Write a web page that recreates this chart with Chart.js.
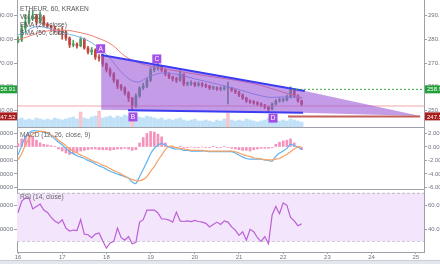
<!DOCTYPE html>
<html>
<head>
<meta charset="utf-8">
<script src="https://cdn.jsdelivr.net/npm/chart.js@4.4.0/dist/chart.umd.min.js"></script>
<style>
html, body { margin: 0; padding: 0; background: #fff; }
#wrap { position: relative; width: 440px; height: 264px; overflow: hidden; }
canvas { position: absolute; left: 0; }
#c1 { top: 0; } #c2 { top: 128px; } #c3 { top: 190px; }
#foot { position: absolute; left: 0; top: 260px; width: 440px; height: 4px; background: #e3e6ec; border-top: 1px solid #c9ccd3; }
</style>
</head>
<body>
<div id="wrap">
  <canvas id="c1" width="440" height="128"></canvas>
  <canvas id="c2" width="440" height="62"></canvas>
  <canvas id="c3" width="440" height="74"></canvas>
  <div id="foot"></div>
</div>
<script>
// ETH/EUR candles, 2h steps from the 16th (day of month)
const opens = [279.0, 279.7, 284.7, 287.3, 289.0, 289.8, 287.3, 289.4, 286.4, 285.6,
  284.7, 283.9, 283.5, 283.1, 280.5, 277.6, 278.0, 277.2, 280.1, 276.3,
  274.6, 275.5, 272.5, 273.4, 269.6, 267.1, 265.4, 262.8, 260.3, 259.5,
  257.4, 255.3, 251.9, 256.1, 259.5, 260.3, 262.8, 267.1, 267.9, 268.7,
  267.1, 265.4, 264.1, 263.3, 262.8, 265.4, 261.2, 261.2, 261.6, 260.7,
  261.2, 260.7, 260.3, 259.5, 259.5, 259.1, 259.1, 259.5, 259.5, 258.6,
  257.8, 256.5, 255.3, 254.0, 253.6, 253.2, 252.7, 252.3, 251.5, 250.6,
  252.7, 254.0, 254.4, 254.4, 255.7, 258.6, 256.1, 254.0];
const closes = [279.7, 284.7, 287.3, 289.0, 289.8, 287.3, 289.4, 286.4, 285.6, 284.7,
  283.9, 283.5, 283.1, 280.5, 277.6, 278.0, 277.2, 280.1, 276.3, 274.6,
  275.5, 272.5, 272.1, 269.6, 267.1, 265.4, 262.8, 260.3, 259.5, 257.4,
  255.3, 251.9, 256.1, 259.5, 260.3, 262.8, 267.1, 267.9, 268.7, 267.1,
  265.4, 264.1, 263.3, 262.8, 265.4, 261.2, 261.2, 261.6, 260.7, 261.2,
  260.7, 260.3, 259.5, 259.5, 259.1, 259.1, 259.5, 259.5, 258.6, 257.8,
  256.5, 255.3, 254.0, 253.6, 253.2, 252.7, 252.3, 251.5, 250.6, 252.7,
  254.0, 254.4, 254.4, 255.7, 258.6, 256.1, 254.0, 252.7];
const highs = [281, 286, 290.5, 292, 292, 290.5, 291.5, 290, 287, 286,
  285.5, 284.5, 285, 283.5, 281, 279.5, 278.5, 281, 280.5, 277,
  276.5, 276, 273.5, 273.8, 270, 268, 266, 263, 261, 260,
  258, 255.5, 257, 260, 261.5, 263.5, 268, 269, 270, 269,
  267.5, 266, 264.5, 264, 266.8, 265, 262, 262.5, 262, 262,
  261.8, 261.2, 260.6, 260.3, 260, 260, 260.4, 262, 259.8, 259,
  258.2, 257, 255.6, 254.5, 254.2, 253.8, 253.2, 252.6, 251.8, 253.2,
  254.6, 255.4, 255.2, 256.5, 260, 258.9, 256.6, 254.4];
const lows = [278.5, 279, 284, 286.8, 288, 286, 286.8, 285.8, 284.8, 283.8,
  283, 282.2, 280, 279.5, 276.5, 276.8, 276.2, 276.8, 275.8, 273.8,
  273.5, 271.5, 270.8, 268.5, 266.2, 264.4, 261.8, 259.2, 258.5, 256.5,
  253.8, 250.0, 251.2, 255.5, 258.8, 259.6, 262.2, 266.3, 267, 266.4,
  264.6, 263.4, 262.4, 261.8, 262.2, 260.4, 260.4, 260.6, 260, 260.2,
  259.9, 259.6, 258.8, 258.8, 258.5, 258.3, 258.6, 252.8, 258, 257.1,
  255.8, 254.6, 253.4, 253, 252.6, 252.1, 251.6, 250.8, 249.4, 250.2,
  252.3, 253.5, 253.6, 254, 255.2, 255.5, 253.5, 252];
const volumes = [9, 10, 8, 9, 8, 10, 9, 8, 9, 8, 10, 9, 8, 9, 10, 11, 9, 16, 10, 9,
  11, 12, 17, 10, 11, 12, 10, 12, 11, 13, 12, 15, 13, 11, 10, 12, 11, 10, 9, 10,
  8, 9, 8, 9, 10, 8, 7, 8, 9, 7, 7, 8, 7, 6, 8, 7, 9, 15, 8, 7,
  8, 7, 9, 8, 7, 6, 7, 8, 10, 9, 8, 7, 8, 7, 9, 8, 7, 6];

// moving averages (sampled)
const maFastDays = [16.0, 16.16, 16.38, 16.68, 17.06, 17.45, 17.74, 18.04, 18.38, 18.69, 18.99, 19.37, 20.12, 20.86, 21.63, 21.99, 22.43];
const maFast = [281.8, 283.1, 285.2, 284.7, 282.6, 280.5, 277.6, 272.9, 265.4, 262.0, 264.5, 265.8, 262.8, 259.5, 255.7, 255.7, 255.3];
const maSlowDays = [16.0, 16.27, 16.54, 17.0, 17.45, 17.81, 18.13, 18.42, 18.69, 18.99, 20.12, 21.25, 21.99, 22.43];
const maSlow = [279.7, 281.4, 283.1, 283.9, 282.6, 280.5, 277.6, 272.9, 270.4, 268.7, 265.0, 261.6, 257.8, 255.3];

// triangle pattern ABCD
const upperDays = [17.88, 22.49, 25.1];
const upperPrices = [273.4, 258.2, 247.7];
const lowerDays = [17.88, 22.45, 25.1];
const lowerPrices = [250.3, 249.0, 247.7];
const acDays = [17.88, 22.49];
const acPrices = [273.4, 258.2];
const bdDays = [18.49, 22.45];
const bdPrices = [250.1, 249.0];
const letters = ['A', 'B', 'C', 'D'];
const letterDays = [17.87, 18.6, 19.14, 21.77];
const letterPrices = [276.0, 247.3, 271.7, 246.8];

// levels
const lastPrice = 251.9;
const resistance = 258.91;
const support = 247.52;

// MACD (12, 26, close, 9)
const macd = [-1.2, 0.2, 1.5, 2.1, 2.4, 2.4, 2.3, 2.2, 2.0, 1.7,
  1.2, 0.7, 0.3, -0.2, -0.7, -1.0, -1.3, -1.5, -1.7, -2.0,
  -2.2, -2.5, -2.8, -3.0, -3.3, -3.6, -3.8, -4.0, -4.2, -4.4,
  -4.6, -5.2, -5.4, -4.4, -3.3, -2.2, -1.0, -0.2, 0.3, 0.5,
  0.3, 0.0, -0.2, -0.3, -0.3, -0.5, -0.5, -0.6, -0.6, -0.6,
  -0.6, -0.6, -0.7, -0.7, -0.7, -0.7, -0.7, -0.7, -0.7, -0.9,
  -1.2, -1.5, -1.7, -1.8, -1.8, -1.8, -1.8, -1.9, -2.0, -2.1,
  -1.4, -0.9, -0.6, -0.2, 0.4, 0.2, 0.0, -0.4];
const signal = [-1.9, -1.0, 0.3, 1.2, 1.9, 2.2, 2.3, 2.3, 2.1, 1.8,
  1.5, 1.0, 0.6, 0.2, -0.3, -0.6, -0.9, -1.2, -1.4, -1.7,
  -2.0, -2.2, -2.4, -2.7, -2.9, -3.2, -3.5, -3.7, -4.0, -4.3,
  -4.6, -4.8, -5.0, -5.0, -4.8, -4.4, -3.6, -2.9, -2.0, -1.2,
  -0.4, 0.1, 0.1, -0.1, -0.2, -0.3, -0.4, -0.5, -0.5, -0.5,
  -0.5, -0.6, -0.6, -0.6, -0.6, -0.6, -0.6, -0.6, -0.6, -0.7,
  -0.9, -1.1, -1.3, -1.4, -1.6, -1.7, -1.8, -1.9, -1.9, -1.9,
  -1.8, -1.7, -1.4, -1.1, -0.7, -0.3, 0.0, 0.0];
const histogram = [0.5, 1.2, 1.6, 1.8, 1.5, 1.0, 0.6, 0.4, 0.3, 0.2,
  0.1, -0.3, -0.6, -0.9, -1.1, -1.0, -0.8, -0.6, -0.5, -0.4,
  -0.3, -0.3, -0.4, -0.4, -0.4, -0.5, -0.4, -0.3, -0.3, -0.2,
  -0.3, -0.5, -0.4, 0.6, 1.4, 2.0, 2.3, 2.2, 1.9, 1.5,
  0.6, 0.1, -0.1, -0.1, 0.1, -0.1, -0.1, 0.0, -0.1, -0.1,
  0.0, -0.1, -0.1, 0.1, -0.1, -0.1, 0.1, -0.1, -0.2, -0.3,
  -0.4, -0.5, -0.5, -0.6, -0.4, -0.3, -0.2, -0.2, -0.2, -0.1,
  0.4, 0.7, 0.9, 1.0, 1.2, 0.6, 0.1, -0.4];

// RSI (14, close)
const rsi = [53.8, 63.6, 66, 66, 57, 59, 61, 56, 54, 50,
  47, 45, 48, 41, 38.6, 39.4, 39, 48, 36, 35.5,
  33, 36, 37, 30.5, 24.4, 28.6, 30, 41, 33, 31,
  34, 28, 29, 46, 48, 56, 56, 56, 53.6, 48.6,
  48.6, 47.7, 46, 54.4, 47, 46.5, 47, 46.5, 47.5, 46.5,
  46, 45, 42, 44, 46, 44, 47, 46, 42, 39.4,
  35, 38, 31, 40, 38, 33, 30, 34, 28, 52,
  59, 53, 62, 60, 50, 47, 43, 44.5];
const rsiBands = [70, 30];

const days = closes.map((c, i) => 16 + i / 12);
const xMin = 15.977, xMax = 25.186;
const pts = (xs, ys) => ys.map((y, i) => ({x: xs[i], y}));

Chart.defaults.font.family = '"Liberation Sans", sans-serif';
Chart.defaults.animation = false;
Chart.defaults.plugins.legend.display = false;
Chart.defaults.plugins.tooltip.enabled = false;

const frame = '#9da1aa', tickColor = '#6f7380';
const labelFont = '6.6px "Liberation Sans Narrow", "Liberation Sans", sans-serif';

function sideAxis(pos, min, max, step, dec) {
  return {
    position: pos, min, max,
    afterFit: s => { s.width = pos === 'left' ? 17 : 16; s.paddingTop = 0; s.paddingBottom = 0; },
    ticks: {stepSize: step, includeBounds: false, padding: 1, color: tickColor, font: {size: 6},
      callback: v => v.toFixed(dec)},
    grid: {drawOnChartArea: false, tickLength: 3, color: frame},
    border: {color: frame}
  };
}
const xHidden = {type: 'linear', min: xMin, max: xMax, display: false, offset: false};

function overlay(draw) {
  return {id: 'overlay', afterDraw(chart) { const c = chart.ctx; c.save(); draw(chart, c); c.restore(); }};
}
function separator(chart, c) {
  const a = chart.chartArea;
  c.strokeStyle = frame; c.lineWidth = 1;
  c.beginPath(); c.moveTo(a.left, a.bottom - 0.5); c.lineTo(a.right, a.bottom - 0.5); c.stroke();
}
function priceTag(c, py, text, color) {
  c.fillStyle = color;
  c.fillRect(0, py - 4, 17, 8);
  c.fillRect(425, py - 4, 15, 8);
  c.fillStyle = '#fff'; c.font = '6px "Liberation Sans"'; c.textBaseline = 'middle';
  c.textAlign = 'right'; c.fillText(text, 15.5, py + 0.5);
  c.textAlign = 'left'; c.fillText(text, 427, py + 0.5);
}

const up = '#4f9a62', down = '#c0463c';
const candleColors = closes.map((c, i) => c >= opens[i] ? up : down);

// main pane
new Chart(document.getElementById('c1'), {
  type: 'bar',
  data: {
    datasets: [
      {type: 'bar', yAxisID: 'yVol', data: pts(days, volumes), grouped: false, barThickness: 3, order: 10,
        backgroundColor: volumes.map(v => v >= 14 ? 'rgba(240,160,170,0.6)' : 'rgba(140,200,240,0.55)')},
      {type: 'bar', data: days.map((d, i) => ({x: d, y: [lows[i], highs[i]]})), grouped: false,
        barThickness: 1, backgroundColor: candleColors, order: 9},
      {type: 'bar', data: days.map((d, i) => ({x: d, y: [opens[i], closes[i]]})), grouped: false,
        barThickness: 2, minBarLength: 1, backgroundColor: candleColors, order: 8},
      {type: 'line', data: pts(maFastDays, maFast), borderColor: '#74aee6', borderWidth: 1, pointRadius: 0, tension: 0.4, order: 7},
      {type: 'line', data: pts(maSlowDays, maSlow), borderColor: '#ef7f72', borderWidth: 1, pointRadius: 0, tension: 0.4, order: 6},
      {type: 'line', data: pts([xMin, xMax], [lastPrice, lastPrice]), borderColor: 'rgba(238,130,130,0.7)', borderWidth: 1, pointRadius: 0, order: 5},
      {type: 'line', data: pts(upperDays, upperPrices), borderWidth: 0, pointRadius: 0, fill: '+1',
        backgroundColor: 'rgba(152,82,214,0.58)', order: 4},
      {type: 'line', data: pts(lowerDays, lowerPrices), borderWidth: 0, pointRadius: 0, fill: false, order: 4},
      {type: 'line', data: pts(acDays, acPrices), borderColor: '#3c3cf2', borderWidth: 2, pointRadius: 0, order: 2},
      {type: 'line', data: pts(bdDays, bdPrices), borderColor: '#3c3cf2', borderWidth: 2, pointRadius: 0, order: 2},
      {type: 'line', data: pts([22.2, xMax], [resistance, resistance]), borderColor: '#3aa845', borderWidth: 1,
        borderDash: [2, 2], pointRadius: 0, order: 1},
      {type: 'line', data: pts([22.11, 25.1], [support, support]), borderColor: '#c2605a', borderWidth: 2, pointRadius: 0, order: 1}
    ]
  },
  options: {
    responsive: false,
    devicePixelRatio: 1,
    layout: {padding: 0},
    scales: {
      x: xHidden,
      y: sideAxis('left', 242.63, 296.53, 10, 2),
      yR: sideAxis('right', 242.63, 296.53, 10, 2),
      yVol: {display: false, min: 0, max: 128}
    }
  },
  plugins: [overlay((chart, c) => {
    const {x, y} = chart.scales;
    separator(chart, c);
    c.font = labelFont; c.fillStyle = '#555'; c.textBaseline = 'middle'; c.textAlign = 'left';
    ['ETHEUR, 60, KRAKEN', 'Vol (20)', 'EMA (20, close)', 'SMA (50, close)']
      .forEach((t, i) => c.fillText(t, 20, 9 + i * 8));
    letters.forEach((t, i) => {
      const px = x.getPixelForValue(letterDays[i]), py = y.getPixelForValue(letterPrices[i]);
      c.fillStyle = '#a24fe8'; c.fillRect(px - 4.5, py - 4.5, 9, 9);
      c.fillStyle = '#fff'; c.textAlign = 'center'; c.font = '6.5px "Liberation Sans"';
      c.fillText(t, px, py + 0.5);
    });
    priceTag(c, y.getPixelForValue(resistance), resistance.toFixed(2), '#23a03a');
    priceTag(c, y.getPixelForValue(support), support.toFixed(2), '#a81e1e');
  })]
});

// MACD pane
new Chart(document.getElementById('c2'), {
  type: 'bar',
  data: {
    datasets: [
      {type: 'bar', data: pts(days, histogram), grouped: false, barThickness: 2, backgroundColor: '#f592bb', order: 3},
      {type: 'line', data: pts(days, macd), borderColor: '#5db3f2', borderWidth: 1.2, pointRadius: 0, tension: 0.3, order: 2},
      {type: 'line', data: pts(days, signal), borderColor: '#f7a165', borderWidth: 1.2, pointRadius: 0, tension: 0.3, order: 1}
    ]
  },
  options: {
    responsive: false,
    devicePixelRatio: 1,
    layout: {padding: 0},
    scales: {
      x: xHidden,
      y: sideAxis('left', -6.37, 2.81, 2, 4),
      yR: sideAxis('right', -6.37, 2.81, 2, 3)
    }
  },
  plugins: [overlay((chart, c) => {
    separator(chart, c);
    c.font = labelFont; c.fillStyle = '#666'; c.textBaseline = 'middle';
    c.fillText('MACD (12, 26, close, 9)', 20, 7);
  })]
});

// RSI pane
new Chart(document.getElementById('c3'), {
  type: 'line',
  data: {
    datasets: [
      {data: pts([xMin, xMax], [rsiBands[0], rsiBands[0]]), borderColor: '#b8b8c2', borderWidth: 1, borderDash: [3, 2],
        pointRadius: 0, fill: '+1', backgroundColor: '#f3e5fc', order: 3},
      {data: pts([xMin, xMax], [rsiBands[1], rsiBands[1]]), borderColor: '#b8b8c2', borderWidth: 1, borderDash: [3, 2],
        pointRadius: 0, fill: false, order: 3},
      {data: pts(days, rsi), borderColor: '#bb5fd6', borderWidth: 1.2, pointRadius: 0, order: 1}
    ]
  },
  options: {
    responsive: false,
    devicePixelRatio: 1,
    layout: {padding: 0},
    scales: {
      x: {type: 'linear', min: xMin, max: xMax, offset: false,
        afterFit: s => { s.height = 12; s.paddingLeft = 0; s.paddingRight = 0; },
        ticks: {stepSize: 1, includeBounds: false, autoSkip: false, maxRotation: 0, padding: 0, color: tickColor, font: {size: 6}},
        grid: {drawOnChartArea: false, tickLength: 2, color: frame},
        border: {color: frame}},
      y: sideAxis('left', 21.1, 72.75, 20, 4),
      yR: sideAxis('right', 21.1, 72.75, 20, 2)
    }
  },
  plugins: [overlay((chart, c) => {
    c.font = labelFont; c.fillStyle = '#666'; c.textBaseline = 'middle';
    c.fillText('RSI (14, close)', 20, 7);
  })]
});
</script>
</body>
</html>
